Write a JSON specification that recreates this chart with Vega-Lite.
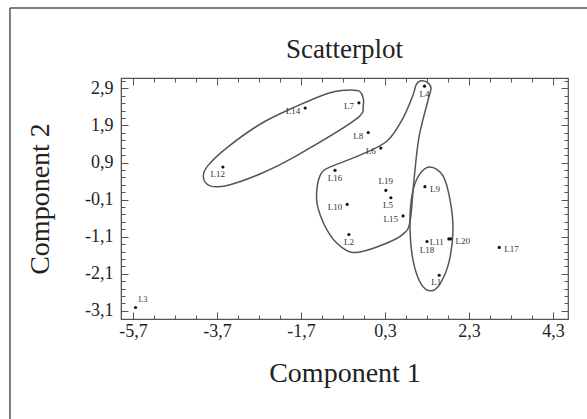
{
  "$schema": "https://vega.github.io/schema/vega-lite/v6.json",
  "width": 447,
  "height": 241,
  "autosize": "none",
  "padding": {"left": 121, "top": 78, "right": 19, "bottom": 100},
  "background": "white",
  "config": {
    "font": "Liberation Serif",
    "view": {"stroke": "#555", "strokeWidth": 1.2},
    "axis": {"grid": false, "domainColor": "#555", "tickColor": "#555", "labelColor": "#222", "titleColor": "#222", "labelFont": "Liberation Serif", "titleFont": "Liberation Serif", "titleFontWeight": "normal"}
  },
  "title": {"text": "Scatterplot", "fontSize": 27, "font": "Liberation Serif", "fontWeight": "normal", "color": "#222", "baseline": "alphabetic", "offset": -78},
  "datasets": {
    "pts": [
      {"label": "L1", "x": 1.59, "y": -2.14, "side": "belowleft"},
      {"label": "L2", "x": -0.56, "y": -1.04, "side": "below"},
      {"label": "L3", "x": -5.64, "y": -3.01, "side": "aboveright"},
      {"label": "L4", "x": 1.24, "y": 2.96, "side": "below"},
      {"label": "L5", "x": 0.44, "y": -0.05, "side": "belowleft"},
      {"label": "L6", "x": 0.20, "y": 1.29, "side": "left"},
      {"label": "L7", "x": -0.32, "y": 2.51, "side": "left"},
      {"label": "L8", "x": -0.10, "y": 1.71, "side": "left"},
      {"label": "L9", "x": 1.25, "y": 0.25, "side": "right"},
      {"label": "L10", "x": -0.60, "y": -0.23, "side": "left"},
      {"label": "L11", "x": 1.82, "y": -1.16, "side": "left"},
      {"label": "L12", "x": -3.56, "y": 0.78, "side": "belowleft"},
      {"label": "L14", "x": -1.60, "y": 2.37, "side": "left"},
      {"label": "L15", "x": 0.73, "y": -0.54, "side": "left"},
      {"label": "L16", "x": -0.89, "y": 0.69, "side": "below"},
      {"label": "L17", "x": 3.02, "y": -1.39, "side": "right"},
      {"label": "L18", "x": 1.30, "y": -1.23, "side": "below"},
      {"label": "L19", "x": 0.32, "y": 0.15, "side": "above"},
      {"label": "L20", "x": 1.86, "y": -1.16, "side": "right"}
    ],
    "shapes": [
      {"shape": "A", "i": 1, "x": -0.295, "y": 2.81},
      {"shape": "A", "i": 2, "x": -0.217, "y": 2.45},
      {"shape": "A", "i": 3, "x": -0.414, "y": 2.05},
      {"shape": "A", "i": 4, "x": -1.843, "y": 1.06},
      {"shape": "A", "i": 5, "x": -2.636, "y": 0.61},
      {"shape": "A", "i": 6, "x": -3.431, "y": 0.29},
      {"shape": "A", "i": 7, "x": -3.867, "y": 0.27},
      {"shape": "A", "i": 8, "x": -4.026, "y": 0.52},
      {"shape": "A", "i": 9, "x": -3.907, "y": 0.83},
      {"shape": "A", "i": 10, "x": -3.431, "y": 1.33},
      {"shape": "A", "i": 11, "x": -2.636, "y": 1.96},
      {"shape": "A", "i": 12, "x": -1.843, "y": 2.40},
      {"shape": "A", "i": 13, "x": -1.05, "y": 2.77},
      {"shape": "A", "i": 14, "x": -0.652, "y": 2.85},
      {"shape": "B", "i": 1, "x": 1.133, "y": 3.10},
      {"shape": "B", "i": 2, "x": 1.30, "y": 3.07},
      {"shape": "B", "i": 3, "x": 1.395, "y": 2.91},
      {"shape": "B", "i": 4, "x": 1.324, "y": 2.58},
      {"shape": "B", "i": 5, "x": 1.11, "y": 1.59},
      {"shape": "B", "i": 6, "x": 0.99, "y": 0.43},
      {"shape": "B", "i": 7, "x": 0.895, "y": -0.70},
      {"shape": "B", "i": 8, "x": 0.729, "y": -1.03},
      {"shape": "B", "i": 9, "x": 0.348, "y": -1.27},
      {"shape": "B", "i": 10, "x": -0.295, "y": -1.51},
      {"shape": "B", "i": 11, "x": -0.629, "y": -1.46},
      {"shape": "B", "i": 12, "x": -1.01, "y": -1.05},
      {"shape": "B", "i": 13, "x": -1.295, "y": -0.33},
      {"shape": "B", "i": 14, "x": -1.319, "y": 0.21},
      {"shape": "B", "i": 15, "x": -1.20, "y": 0.64},
      {"shape": "B", "i": 16, "x": -0.938, "y": 0.81},
      {"shape": "B", "i": 17, "x": -0.295, "y": 1.10},
      {"shape": "B", "i": 18, "x": 0.348, "y": 1.48},
      {"shape": "B", "i": 19, "x": 0.729, "y": 2.10},
      {"shape": "B", "i": 20, "x": 0.967, "y": 2.72},
      {"shape": "B", "i": 21, "x": 1.038, "y": 2.99},
      {"shape": "C", "i": 1, "x": 1.371, "y": 0.78},
      {"shape": "C", "i": 2, "x": 1.681, "y": 0.54},
      {"shape": "C", "i": 3, "x": 1.848, "y": -0.11},
      {"shape": "C", "i": 4, "x": 1.919, "y": -0.92},
      {"shape": "C", "i": 5, "x": 1.824, "y": -1.78},
      {"shape": "C", "i": 6, "x": 1.610, "y": -2.37},
      {"shape": "C", "i": 7, "x": 1.395, "y": -2.56},
      {"shape": "C", "i": 8, "x": 1.157, "y": -2.37},
      {"shape": "C", "i": 9, "x": 0.967, "y": -1.73},
      {"shape": "C", "i": 10, "x": 0.895, "y": -0.84},
      {"shape": "C", "i": 11, "x": 0.943, "y": 0.02},
      {"shape": "C", "i": 12, "x": 1.11, "y": 0.56}
    ]
  },
  "layer": [
    {
      "data": {"name": "shapes"},
      "mark": {"type": "line", "interpolate": "cardinal-closed", "stroke": "#555", "strokeWidth": 1.5},
      "encoding": {
        "x": {"field": "x", "type": "quantitative", "scale": {"domain": [-5.986, 4.657], "nice": false, "zero": false},
              "axis": {"orient": "bottom", "values": [-5.7,-5.2,-4.7,-4.2,-3.7,-3.2,-2.7,-2.2,-1.7,-1.2,-0.7,-0.2,0.3,0.8,1.3,1.8,2.3,2.8,3.3,3.8,4.3], "tickSize": -4, "labels": false, "domain": false, "title": null}},
        "y": {"field": "y", "type": "quantitative", "scale": {"domain": [-3.32, 3.18], "nice": false, "zero": false},
              "axis": {"orient": "left", "values": [-3.1,-2.9,-2.7,-2.5,-2.3,-2.1,-1.9,-1.7,-1.5,-1.3,-1.1,-0.9,-0.7,-0.5,-0.3,-0.1,0.1,0.3,0.5,0.7,0.9,1.1,1.3,1.5,1.7,1.9,2.1,2.3,2.5,2.7,2.9,3.1], "tickSize": -4, "labels": false, "domain": false, "title": null}},
        "detail": {"field": "shape"},
        "order": {"field": "i", "type": "quantitative"}
      }
    },
    {
      "data": {"name": "pts"},
      "mark": {"type": "circle", "size": 10, "color": "#111", "opacity": 1},
      "encoding": {
        "x": {"field": "x", "type": "quantitative",
              "axis": {"orient": "bottom", "values": [-5.7,-3.7,-1.7,0.3,2.3,4.3], "tickSize": -7, "format": ".1f", "labelExpr": "replace(replace(datum.label, '.', ','), '\u2212', '-')", "labelFontSize": 18, "labelPadding": 10, "title": "Component 1", "titleFontSize": 28, "titlePadding": 19}},
        "y": {"field": "y", "type": "quantitative",
              "axis": {"orient": "left", "values": [-3.1,-2.1,-1.1,-0.1,0.9,1.9,2.9], "tickSize": -7, "format": ".1f", "labelExpr": "replace(replace(datum.label, '.', ','), '\u2212', '-')", "labelFontSize": 18, "labelPadding": 15, "title": "Component 2", "titleFontSize": 28, "titlePadding": 30}}
      }
    },
    {
      "data": {"name": "pts"},
      "transform": [{"filter": "datum.side == 'left'"}],
      "mark": {"type": "text", "align": "right", "baseline": "middle", "dx": -5, "dy": 3, "fontSize": 9, "color": "#333", "font": "Liberation Serif"},
      "encoding": {
        "x": {"field": "x", "type": "quantitative", "axis": {"orient": "top", "values": [-5.7,-5.2,-4.7,-4.2,-3.7,-3.2,-2.7,-2.2,-1.7,-1.2,-0.7,-0.2,0.3,0.8,1.3,1.8,2.3,2.8,3.3,3.8,4.3], "tickSize": -4, "labels": false, "domain": false, "title": null}},
        "y": {"field": "y", "type": "quantitative", "axis": {"orient": "right", "values": [-3.1,-2.9,-2.7,-2.5,-2.3,-2.1,-1.9,-1.7,-1.5,-1.3,-1.1,-0.9,-0.7,-0.5,-0.3,-0.1,0.1,0.3,0.5,0.7,0.9,1.1,1.3,1.5,1.7,1.9,2.1,2.3,2.5,2.7,2.9,3.1], "tickSize": -4, "labels": false, "domain": false, "title": null}},
        "text": {"field": "label"}
      }
    },
    {
      "data": {"name": "pts"},
      "transform": [{"filter": "datum.side == 'right'"}],
      "mark": {"type": "text", "align": "left", "baseline": "middle", "dx": 5, "dy": 2, "fontSize": 9, "color": "#333", "font": "Liberation Serif"},
      "encoding": {
        "x": {"field": "x", "type": "quantitative", "axis": {"orient": "top", "values": [-5.7,-3.7,-1.7,0.3,2.3,4.3], "tickSize": -7, "labels": false, "domain": false, "title": null}},
        "y": {"field": "y", "type": "quantitative", "axis": {"orient": "right", "values": [-3.1,-2.1,-1.1,-0.1,0.9,1.9,2.9], "tickSize": -7, "labels": false, "domain": false, "title": null}},
        "text": {"field": "label"}
      }
    },
    {
      "data": {"name": "pts"},
      "transform": [{"filter": "datum.side == 'below'"}],
      "mark": {"type": "text", "align": "center", "baseline": "top", "dy": 4, "fontSize": 9, "color": "#333", "font": "Liberation Serif"},
      "encoding": {
        "x": {"field": "x", "type": "quantitative", "axis": null},
        "y": {"field": "y", "type": "quantitative", "axis": null},
        "text": {"field": "label"}
      }
    },
    {
      "data": {"name": "pts"},
      "transform": [{"filter": "datum.side == 'belowleft'"}],
      "mark": {"type": "text", "align": "right", "baseline": "top", "dx": 2, "dy": 3, "fontSize": 9, "color": "#333", "font": "Liberation Serif"},
      "encoding": {
        "x": {"field": "x", "type": "quantitative", "axis": null},
        "y": {"field": "y", "type": "quantitative", "axis": null},
        "text": {"field": "label"}
      }
    },
    {
      "data": {"name": "pts"},
      "transform": [{"filter": "datum.side == 'above'"}],
      "mark": {"type": "text", "align": "center", "baseline": "bottom", "dy": -4, "fontSize": 9, "color": "#333", "font": "Liberation Serif"},
      "encoding": {
        "x": {"field": "x", "type": "quantitative", "axis": null},
        "y": {"field": "y", "type": "quantitative", "axis": null},
        "text": {"field": "label"}
      }
    },
    {
      "data": {"name": "pts"},
      "transform": [{"filter": "datum.side == 'aboveright'"}],
      "mark": {"type": "text", "align": "left", "baseline": "bottom", "dx": 3, "dy": -4, "fontSize": 8, "color": "#333", "font": "Liberation Serif"},
      "encoding": {
        "x": {"field": "x", "type": "quantitative", "axis": null},
        "y": {"field": "y", "type": "quantitative", "axis": null},
        "text": {"field": "label"}
      }
    },
    {
      "data": {"values": [{}]},
      "mark": {"type": "rule", "stroke": "#555", "strokeWidth": 1.5, "clip": false},
      "encoding": {
        "x": {"datum": -8.63, "type": "quantitative", "axis": null},
        "y": {"datum": 5.07, "type": "quantitative", "axis": null},
        "y2": {"datum": -6.2}
      }
    },
    {
      "data": {"values": [{}]},
      "mark": {"type": "rule", "stroke": "#555", "strokeWidth": 1.5, "clip": false},
      "encoding": {
        "x": {"datum": -8.63, "type": "quantitative", "axis": null},
        "x2": {"datum": 5.2},
        "y": {"datum": 5.07, "type": "quantitative", "axis": null}
      }
    }
  ],
  "resolve": {"axis": {"x": "independent", "y": "independent"}}
}
